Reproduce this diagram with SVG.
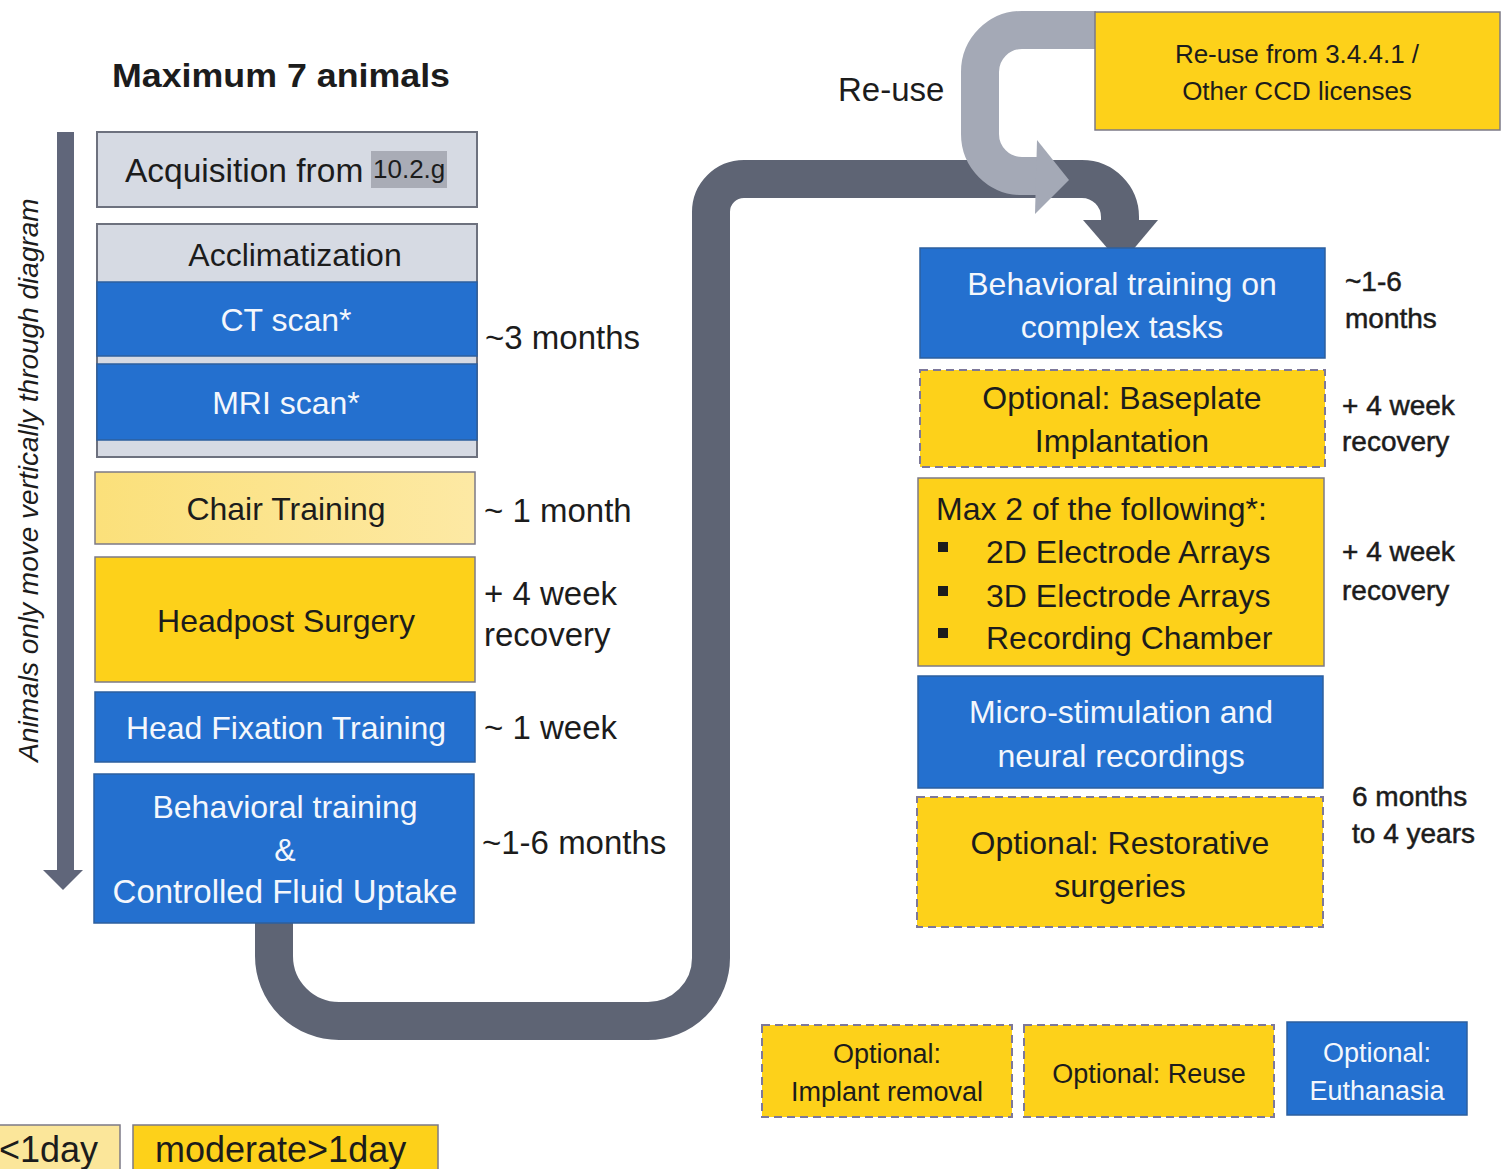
<svg xmlns="http://www.w3.org/2000/svg" width="1504" height="1169" viewBox="0 0 1504 1169">
<defs>
<style>
.t{font-family:"Liberation Sans",Arial,sans-serif;fill:#1c1c1c;}
.c{text-anchor:middle;}
.w{fill:#f4f7fc;}
.s32{font-size:32px;}
.s33{font-size:33px;}
.s28{font-size:28px;}
.s26{font-size:26px;}
.bd{stroke:#1c1c1c;stroke-width:0.5;}
.blue{fill:#2470cf;stroke:#2d5f9e;stroke-width:1.5;}
.gold{fill:#fdd11a;stroke:#7c7a86;stroke-width:1.5;}
.dash{stroke:#7d789a;stroke-width:2;stroke-dasharray:8 5;}
.gray{fill:#d6dae3;stroke:#6d717e;stroke-width:2;}
.dark{fill:none;stroke:#5e6474;stroke-width:38;stroke-linejoin:round;}
.light{fill:none;stroke:#a4a9b6;stroke-width:38;stroke-linejoin:round;}
</style>
<linearGradient id="lightY" x1="0" y1="0" x2="1" y2="0">
<stop offset="0" stop-color="#fbe07a"/>
<stop offset="1" stop-color="#fde9a4"/>
</linearGradient>
</defs>
<rect width="1504" height="1169" fill="#ffffff"/>

<g id="title">
<text class="t" x="112" y="87" font-size="34" font-weight="bold" textLength="338" lengthAdjust="spacingAndGlyphs">Maximum 7 animals</text>
</g>

<g id="time-arrow">
<rect x="57" y="132" width="17" height="739" fill="#60667a"/>
<polygon points="43,870 83,870 63,890" fill="#60667a"/>
<text class="t c" transform="translate(38,480) rotate(-90)" font-size="28" font-style="italic">Animals only move vertically through diagram</text>
</g>

<g id="connectors">
<path class="dark" d="M 274 923 L 274 956 A 65 65 0 0 0 339 1021 L 648 1021 A 63 63 0 0 0 711 958 L 711 212 A 33 33 0 0 1 744 179 L 1082 179 A 38 38 0 0 1 1120 217 L 1120 222"/>
<polygon points="1083,220 1158,220 1121,264" fill="#5e6474"/>
<path class="light" d="M 1096 30 L 1022 30 A 42 42 0 0 0 980 72 L 980 134 A 42 42 0 0 0 1022 176 L 1038 176"/>
<polygon points="1037,140 1069,180 1035,214" fill="#a4a9b6"/>
</g>

<g id="acquisition">
<rect class="gray" x="97" y="132" width="380" height="75"/>
<text class="t" x="125" y="182" font-size="33.5">Acquisition from</text>
<rect x="371" y="151" width="76" height="37" fill="#a9acb6"/>
<text class="t" x="373" y="178" font-size="26">10.2.g</text>
</g>

<g id="acclimatization">
<rect class="gray" x="97" y="224" width="380" height="233"/>
<text class="t s32 c" x="295" y="266">Acclimatization</text>
</g>
<g id="ct-scan">
<rect class="blue" x="97" y="282" width="380" height="74"/>
<text class="t s32 c w" x="286" y="331">CT scan*</text>
</g>
<g id="mri-scan">
<rect class="blue" x="97" y="364" width="380" height="76"/>
<text class="t s32 c w" x="286" y="414">MRI scan*</text>
</g>

<g id="chair-training">
<rect x="95" y="472" width="380" height="72" fill="url(#lightY)" stroke="#7c7a86" stroke-width="1.5"/>
<text class="t s32 c" x="286" y="520">Chair Training</text>
</g>

<g id="headpost-surgery">
<rect class="gold" x="95" y="557" width="380" height="125"/>
<text class="t s32 c" x="286" y="632">Headpost Surgery</text>
</g>

<g id="head-fixation">
<rect class="blue" x="95" y="692" width="380" height="70"/>
<text class="t s32 c w" x="286" y="739">Head Fixation Training</text>
</g>

<g id="behavioral-training">
<rect class="blue" x="94" y="774" width="380" height="149"/>
<text class="t s32 c w" x="285" y="818">Behavioral training</text>
<text class="t s32 c w" x="285" y="861">&amp;</text>
<text class="t c w" x="285" y="903" font-size="33">Controlled Fluid Uptake</text>
</g>

<g id="left-durations">
<text class="t s33" x="485" y="349">~3 months</text>
<text class="t s33" x="484" y="522">~ 1 month</text>
<text class="t s33" x="484" y="605">+ 4 week</text>
<text class="t s33" x="484" y="646">recovery</text>
<text class="t s33" x="484" y="739">~ 1 week</text>
<text class="t s33" x="482" y="854">~1-6 months</text>
</g>

<g id="reuse-label">
<text class="t" x="838" y="101" font-size="33">Re-use</text>
</g>

<g id="reuse-source">
<rect class="gold" x="1095" y="12" width="405" height="118"/>
<text class="t s26 c" x="1297" y="63">Re-use from 3.4.4.1 /</text>
<text class="t s26 c" x="1297" y="100">Other CCD licenses</text>
</g>

<g id="complex-training">
<rect class="blue" x="920" y="248" width="405" height="110"/>
<text class="t s32 c w" x="1122" y="295">Behavioral training on</text>
<text class="t s32 c w" x="1122" y="338">complex tasks</text>
</g>

<g id="baseplate">
<rect class="gold dash" x="920" y="370" width="405" height="97"/>
<text class="t s32 c" x="1122" y="409">Optional: Baseplate</text>
<text class="t s32 c" x="1122" y="452">Implantation</text>
</g>

<g id="implants">
<rect class="gold" x="918" y="478" width="406" height="188"/>
<text class="t s32" x="936" y="520">Max 2 of the following*:</text>
<rect x="938" y="542" width="10" height="10" fill="#1c1c1c"/>
<text class="t s32" x="986" y="563">2D Electrode Arrays</text>
<rect x="938" y="586" width="10" height="10" fill="#1c1c1c"/>
<text class="t s32" x="986" y="607">3D Electrode Arrays</text>
<rect x="938" y="628" width="10" height="10" fill="#1c1c1c"/>
<text class="t s32" x="986" y="649">Recording Chamber</text>
</g>

<g id="recordings">
<rect class="blue" x="918" y="676" width="405" height="112"/>
<text class="t s32 c w" x="1121" y="723">Micro-stimulation and</text>
<text class="t s32 c w" x="1121" y="767">neural recordings</text>
</g>

<g id="restorative">
<rect class="gold dash" x="917" y="797" width="406" height="130"/>
<text class="t s32 c" x="1120" y="854">Optional: Restorative</text>
<text class="t s32 c" x="1120" y="897">surgeries</text>
</g>

<g id="right-durations">
<text class="t s28 bd" x="1345" y="291">~1-6</text>
<text class="t s28 bd" x="1345" y="328">months</text>
<text class="t s28 bd" x="1342" y="415">+ 4 week</text>
<text class="t s28 bd" x="1342" y="451">recovery</text>
<text class="t s28 bd" x="1342" y="561">+ 4 week</text>
<text class="t s28 bd" x="1342" y="600">recovery</text>
<text class="t s28 bd" x="1352" y="806">6 months</text>
<text class="t s28 bd" x="1352" y="843">to 4 years</text>
</g>

<g id="implant-removal">
<rect class="gold dash" x="762" y="1025" width="250" height="92"/>
<text class="t c" x="887" y="1063" font-size="27">Optional:</text>
<text class="t c" x="887" y="1101" font-size="27">Implant removal</text>
</g>

<g id="reuse">
<rect class="gold dash" x="1024" y="1025" width="250" height="92"/>
<text class="t c" x="1149" y="1083" font-size="27">Optional: Reuse</text>
</g>

<g id="euthanasia">
<rect class="blue" x="1287" y="1022" width="180" height="93"/>
<text class="t c w" x="1377" y="1062" font-size="27">Optional:</text>
<text class="t c w" x="1377" y="1100" font-size="27">Euthanasia</text>
</g>

<g id="legend-mild">
<rect x="-5" y="1125" width="125" height="50" fill="#fbe69a" stroke="#7c7a86" stroke-width="1.5"/>
<text class="t" x="-1" y="1162" font-size="36">&lt;1day</text>
</g>
<g id="legend-moderate">
<rect x="133" y="1125" width="305" height="50" fill="#fdd11a" stroke="#7c7a86" stroke-width="1.5"/>
<text class="t" x="155" y="1162" font-size="36">moderate&gt;1day</text>
</g>
</svg>
